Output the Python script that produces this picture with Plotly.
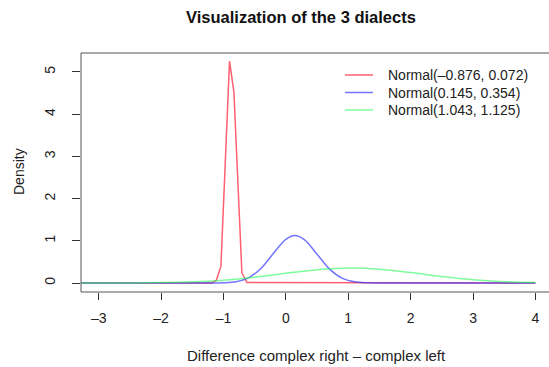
import plotly.graph_objects as go

# ---- data ----
series_names = ["Normal(\u20130.876, 0.072)", "Normal(0.145, 0.354)", "Normal(1.043, 1.125)"]
series_colors = ["rgba(255,20,45,0.68)", "rgba(50,50,255,0.68)", "rgba(40,250,90,0.6)"]

red_x = [-3.284, -1.19, -1.116, -1.041, -0.903, -0.833, -0.705, -0.625, 4.0]
red_y = [0.0, 0.0, 0.06, 0.40, 5.26, 4.53, 0.24, 0.01, 0.0]

blue_x = [-3.284, -1.5, -1.2, -1.0, -0.8, -0.6, -0.4, -0.2, 0.0, 0.145, 0.3, 0.5, 0.7, 0.9, 1.1, 1.3, 1.5, 1.8, 4.0]
blue_y = [0.0, 0.0, 0.001, 0.006, 0.032, 0.123, 0.345, 0.701, 1.036, 1.127, 1.024, 0.681, 0.330, 0.116, 0.030, 0.0055, 0.0007, 0.0, 0.0]

green_x = [-3.284, -3.0, -2.5, -2.0, -1.5, -1.0, -0.5, 0.0, 0.5, 1.043, 1.5, 2.0, 2.5, 3.0, 3.5, 4.0]
green_y = [0.0002, 0.0006, 0.0025, 0.0092, 0.0276, 0.068, 0.138, 0.231, 0.316, 0.355, 0.326, 0.247, 0.153, 0.078, 0.0327, 0.0112]

x_ticks = [-3, -2, -1, 0, 1, 2, 3, 4]
x_tick_text = ["\u20133", "\u20132", "\u20131", "0", "1", "2", "3", "4"]
y_ticks = [0, 1, 2, 3, 4, 5]

title_text = "<b>Visualization of the 3 dialects</b>"
x_title = "Difference complex right \u2013 complex left"
y_title = "Density"

# ---- figure ----
W, H = 549, 367
ML, MR, MT, MB = 81, 0, 53, 75
FONT = "Liberation Sans, Arial, Helvetica, sans-serif"

fig = go.Figure()
xs = [red_x, blue_x, green_x]
ys = [red_y, blue_y, green_y]
shapes_ = ["linear", "spline", "spline"]
for i in range(3):
    fig.add_trace(go.Scatter(x=xs[i], y=ys[i], mode="lines", name=series_names[i],
                             line=dict(color=series_colors[i], width=1.5, shape=shapes_[i]),
                             showlegend=False, hoverinfo="skip"))

pw = W - ML - MR
ph = H - MT - MB

def px_to_paper_x(px):
    return (px - ML) / pw

def px_to_paper_y(py):
    return (H - MB - py) / ph

# plot box (right side lies beyond the visible window)
shapes = [dict(type="rect", xref="paper", yref="paper", x0=0, x1=1.02, y0=0, y1=1,
               line=dict(color="#555555", width=1), layer="above")]
annotations = []
# custom legend
leg_y = [75, 92.5, 110]
for i in range(3):
    shapes.append(dict(type="line", xref="paper", yref="paper",
                       x0=px_to_paper_x(345), x1=px_to_paper_x(373),
                       y0=px_to_paper_y(leg_y[i]), y1=px_to_paper_y(leg_y[i]),
                       line=dict(color=series_colors[i], width=1.5)))
    annotations.append(dict(xref="paper", yref="paper", x=px_to_paper_x(386), y=px_to_paper_y(leg_y[i]),
                            xanchor="left", yanchor="middle", text=series_names[i], showarrow=False,
                            font=dict(family=FONT, size=14, color="#222222")))
# title and axis titles
annotations.append(dict(xref="paper", yref="paper", x=px_to_paper_x(301), y=px_to_paper_y(16.5),
                        xanchor="center", yanchor="middle", text=title_text, showarrow=False,
                        font=dict(family=FONT, size=16.5, color="#111111")))
annotations.append(dict(xref="paper", yref="paper", x=px_to_paper_x(316.7), y=px_to_paper_y(355),
                        xanchor="center", yanchor="middle", text=x_title, showarrow=False,
                        font=dict(family=FONT, size=15, color="#222222")))
annotations.append(dict(xref="paper", yref="paper", x=px_to_paper_x(19), y=px_to_paper_y(172),
                        xanchor="center", yanchor="middle", text=y_title, showarrow=False, textangle=-90,
                        font=dict(family=FONT, size=14, color="#222222")))

fig.update_layout(
    width=W, height=H, margin=dict(l=ML, r=MR, t=MT, b=MB),
    paper_bgcolor="white", plot_bgcolor="white",
    font=dict(family=FONT, size=14, color="#222222"),
    shapes=shapes, annotations=annotations, showlegend=False,
    xaxis=dict(range=[-3.284, 4.218], tickvals=x_ticks, ticktext=x_tick_text,
               showgrid=False, zeroline=False, showline=False,
               ticks="outside", ticklen=7, tickwidth=1, tickcolor="#333333",
               ticklabelstandoff=6, tickfont=dict(size=14)),
    yaxis=dict(range=[-0.213, 5.45], tickvals=y_ticks, tickangle=-90,
               showgrid=False, zeroline=False, showline=False,
               ticks="outside", ticklen=8, tickwidth=1, tickcolor="#333333",
               ticklabelstandoff=11, tickfont=dict(size=14)),
)

fig.write_html("out.html", config={"displayModeBar": False},
               post_script="document.body.style.margin='0';document.body.style.overflow='hidden';")
